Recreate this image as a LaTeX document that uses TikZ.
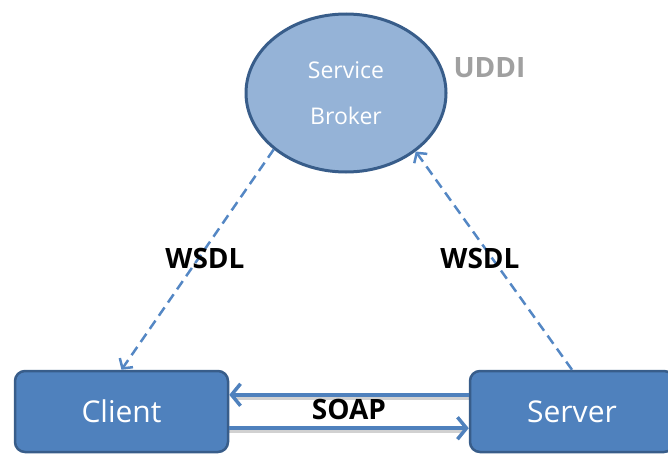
\documentclass[tikz,border=0pt]{standalone}
\usepackage{fontspec}
\setmainfont{Open Sans}
\usetikzlibrary{arrows.meta,calc,shapes.geometric}
\definecolor{brokerfill}{RGB}{149,179,215}
\definecolor{boxfill}{RGB}{79,129,189}
\definecolor{edgeblue}{RGB}{56,93,138}
\definecolor{linkblue}{RGB}{84,135,196}
\definecolor{uddigray}{RGB}{160,160,160}
\tikzset{
  broker/.style={ellipse, draw=edgeblue, line width=3pt, fill=brokerfill,
    minimum width=200pt, minimum height=158pt, inner sep=0pt,
    text=white, font=\fontsize{23}{46}\selectfont, align=center},
  party/.style={rectangle, rounded corners=10pt, draw=edgeblue, line width=2.5pt,
    fill=boxfill, text=white, font=\fontsize{30}{32}\selectfont, inner sep=0pt},
  wsdl/.style={draw=linkblue, line width=2.5pt, dash pattern=on 10pt off 6pt,
    -{Straight Barb[length=7pt,width=16pt,line width=2.5pt]}},
  soap/.style={draw=boxfill, line width=4pt,
    -{Straight Barb[length=9pt,width=22pt,line width=3.5pt]}},
  soapshadow/.style={draw=black, opacity=0.18, line width=4pt},
  tag/.style={font=\bfseries\fontsize{28}{30}\selectfont, text=black, inner sep=1pt}
}
\begin{document}
\begin{tikzpicture}[x=1pt,y=-1pt]
  \useasboundingbox (0,0) rectangle (668,455);

  % the three parties
  \node[broker] (broker) at (346,93) {Service\\Broker};
  \node[font=\bfseries\fontsize{28}{30}\selectfont, text=uddigray, anchor=west]
    (uddi) at (450,68) {UDDI};
  \node[party, minimum width=213pt, minimum height=81pt] (client) at (121.5,411.5) {Client};
  \node[party, minimum width=204pt, minimum height=81pt] (server) at (572,411.5) {Server};

  % WSDL exchanges with the broker
  \draw[wsdl] (broker.218) -- (client.north);
  \draw[wsdl] (server.north) -- (broker.320);
  \node[tag] (wl) at (205,258) {WSDL};
  \node[tag] (wr) at (480,258) {WSDL};

  % SOAP messages between client and server
  \coordinate (sUp) at ($(server.north west)!0.3!(server.south west)$);
  \coordinate (cUp) at ($(client.north east)!0.3!(client.south east)$);
  \coordinate (cLo) at ($(client.north east)!0.7!(client.south east)$);
  \coordinate (sLo) at ($(server.north west)!0.7!(server.south west)$);
  \draw[soapshadow] ($(sUp)+(0,3)$) -- ($(cUp)+(6,3)$);
  \draw[soapshadow] ($(cLo)+(0,3)$) -- ($(sLo)+(-6,3)$);
  \draw[soap] (sUp) -- (cUp);
  \draw[soap] (cLo) -- (sLo);
  \node[tag] (soap) at (349,409) {SOAP};
\end{tikzpicture}
\end{document}
